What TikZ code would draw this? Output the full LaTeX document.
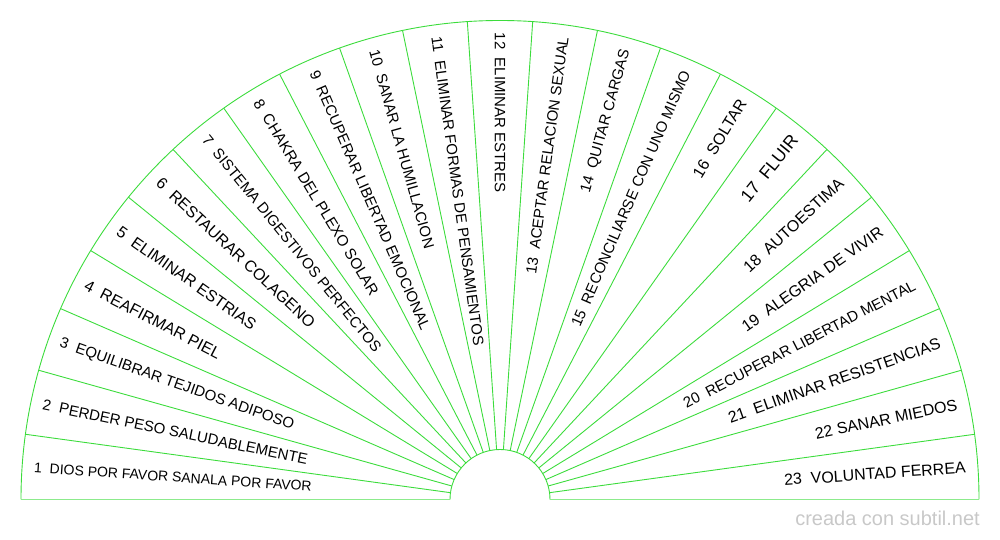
\documentclass[tikz,border=0pt]{standalone}
\usepackage{fontspec}
\setmainfont{Liberation Sans}
\usetikzlibrary{calc}
\definecolor{fan}{RGB}{60,220,60}
\definecolor{fanbase}{RGB}{140,235,140}
\definecolor{wmark}{RGB}{200,200,200}
\begin{document}
\begin{tikzpicture}[x=1pt,y=1pt,
  fanline/.style={draw=fan, line width=0.9pt},
  baseline/.style={draw=fanbase, line width=1.4pt},
  lbl/.style={inner sep=0pt, text=black}]
\useasboundingbox (0,0) rectangle (1000,540);
\coordinate (c) at (500,40.5);
% outer and inner arcs
\draw[fanline] (c) ++(0:479) arc[start angle=0,end angle=180,radius=479];
\draw[fanline] (c) ++(0:50) arc[start angle=0,end angle=180,radius=50];
% base line
\draw[baseline] ($(c)+(-479,0)$) -- ($(c)+(-50,0)$);
\draw[baseline] ($(c)+(50,0)$) -- ($(c)+(479,0)$);
% spokes
\foreach \k in {1,...,22}{
  \pgfmathsetmacro\a{180-\k*180/23}
  \draw[fanline] ($(c)+(\a:50)$) -- ($(c)+(\a:479)$);
}
% labels
\foreach \i/\s/\t in {
  1/14/{1\ \ DIOS POR FAVOR SANALA POR FAVOR},
  2/15/{2\ \ PERDER PESO SALUDABLEMENTE},
  3/15/{3\ \ EQUILIBRAR TEJIDOS ADIPOSO},
  4/16/{4\ \ REAFIRMAR PIEL},
  5/16/{5\ \ ELIMINAR ESTRIAS},
  6/16/{6\ \ RESTAURAR COLAGENO},
  7/15/{7\ \ SISTEMA DIGESTIVOS PERFECTOS},
  8/15.3/{8\ \ CHAKRA DEL PLEXO SOLAR},
  9/15/{9\ \ RECUPERAR LIBERTAD EMOCIONAL},
  10/15/{10\ \ SANAR LA HUMILLACION},
  11/15/{11\ \ ELIMINAR FORMAS DE PENSAMIENTOS},
  12/15/{12\ \ ELIMINAR ESTRES},
  13/15/{13\ \ ACEPTAR RELACION SEXUAL},
  14/15/{14\ \ QUITAR CARGAS},
  15/15/{15\ \ RECONCILIARSE CON UNO MISMO},
  16/16/{16\ \ SOLTAR},
  17/17.5/{17\ \ FLUIR},
  18/16/{18\ \ AUTOESTIMA},
  19/16/{19\ \ ALEGRIA DE VIVIR},
  20/15/{20\ \ RECUPERAR LIBERTAD MENTAL},
  21/16/{21\ \ ELIMINAR RESISTENCIAS},
  22/16/{22 SANAR MIEDOS},
  23/16/{23\ \ VOLUNTAD FERREA}}{
  \pgfmathsetmacro\th{180-(\i-0.5)*180/23}
  \ifnum\i<13
    \pgfmathsetmacro\rt{\th+180}
    \node[lbl, anchor=west, rotate=\rt] (l\i) at ($(c)+(\th:467)$) {\fontsize{\s}{\s}\selectfont\t};
  \else
    \node[lbl, anchor=east, rotate=\th] (l\i) at ($(c)+(\th:467)$) {\fontsize{\s}{\s}\selectfont\t};
  \fi
}
% watermark
\node[lbl, text=wmark, anchor=base east, font=\fontsize{20}{20}\selectfont] (wm) at (980,14) {creada con subtil.net};
\end{tikzpicture}
\end{document}
